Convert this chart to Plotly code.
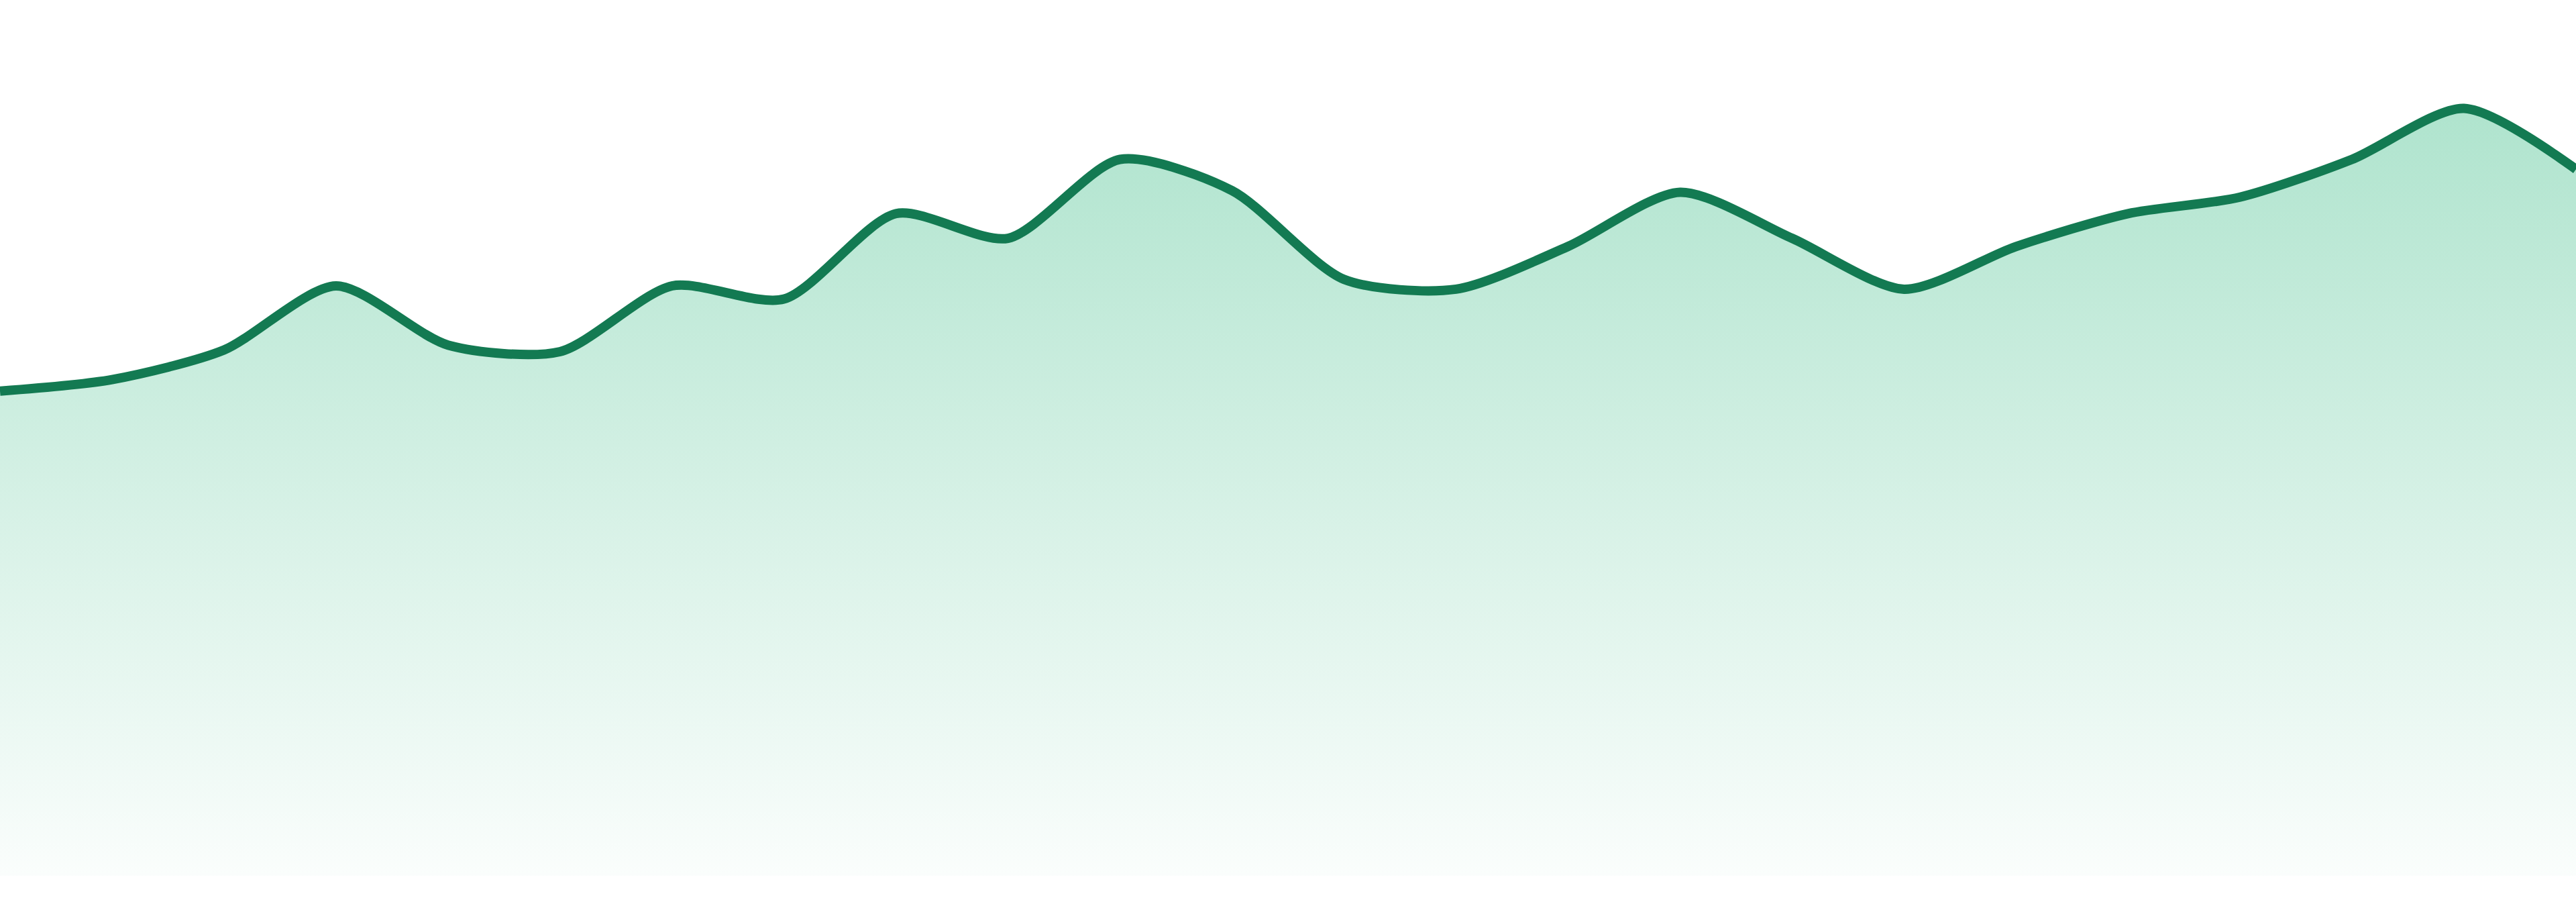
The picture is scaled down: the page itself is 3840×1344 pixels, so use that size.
import plotly.graph_objects as go

# one value per step (baseline = 0)
steps = list(range(24))
values = [295, 302, 320, 359, 323, 319, 359, 351, 403, 388, 436, 417,
          363, 357, 383, 416, 388, 357, 383, 403, 413, 436, 467, 430]

LINE_COLOR = '#137a52'

fig = go.Figure()
fig.add_trace(go.Scatter(
    x=steps, y=values,
    mode='lines',
    line=dict(color=LINE_COLOR, width=14, shape='spline', smoothing=0.75),
    fill='tozeroy',
    fillgradient=dict(
        type='vertical',
        start=0, stop=max(values),
        colorscale=[[0, 'rgba(20,175,110,0.02)'], [1, 'rgba(20,175,110,0.34)']],
    ),
    hoverinfo='skip', showlegend=False,
))

fig.update_layout(
    width=3840, height=1344,
    margin=dict(l=0, r=0, t=0, b=39),
    paper_bgcolor='white', plot_bgcolor='white',
    xaxis=dict(range=[0, 23], visible=False, fixedrange=True),
    yaxis=dict(range=[0, 533], visible=False, fixedrange=True),
)

# drop the browser's default body margin so the chart sits flush in the window
fig.write_html("out.html", config={'displayModeBar': False},
               post_script="document.body.style.margin='0';")
